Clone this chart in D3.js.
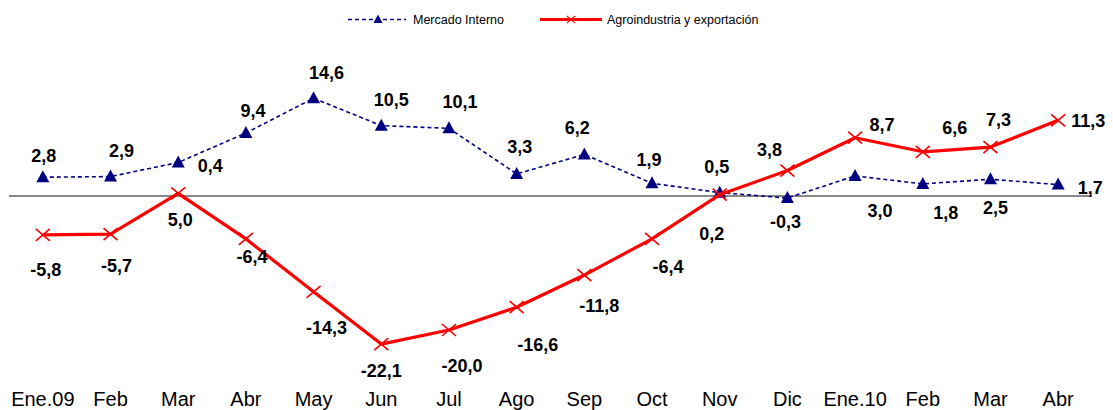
<!DOCTYPE html>
<html>
<head>
<meta charset="utf-8">
<script src="https://cdn.jsdelivr.net/npm/d3@7"></script>
<style>
  body { margin: 0; background: #fff; }
  svg { display: block; font-family: "Liberation Sans", Arial, sans-serif; }
</style>
</head>
<body>
<svg id="chart" width="1113" height="410"></svg>
<script>
const months = ["Ene.09", "Feb", "Mar", "Abr", "May", "Jun", "Jul", "Ago", "Sep", "Oct", "Nov", "Dic", "Ene.10", "Feb ", "Mar ", "Abr "];
const mercadoInterno = [2.8, 2.9, 5.0, 9.4, 14.6, 10.5, 10.1, 3.3, 6.2, 1.9, 0.5, -0.3, 3.0, 1.8, 2.5, 1.7];
const agroExport = [-5.8, -5.7, 0.4, -6.4, -14.3, -22.1, -20.0, -16.6, -11.8, -6.4, 0.2, 3.8, 8.7, 6.6, 7.3, 11.3];
// labels as printed on the original (the two March labels are swapped there)
const mercadoLabels = ["2,8", "2,9", "0,4", "9,4", "14,6", "10,5", "10,1", "3,3", "6,2", "1,9", "0,5", "-0,3", "3,0", "1,8", "2,5", "1,7"];
const agroLabels = ["-5,8", "-5,7", "5,0", "-6,4", "-14,3", "-22,1", "-20,0", "-16,6", "-11,8", "-6,4", "0,2", "3,8", "8,7", "6,6", "7,3", "11,3"];
const seriesNames = ["Mercado Interno", "Agroindustria y exportación"];

// label offsets from each point (layout only)
const mercadoOffsets = [[1, -15], [11, -20], [32, 9], [7, -16], [13, -19], [10, -20], [11, -20], [3, -21], [-7, -20], [-3, -17], [-3, -20], [-2, 30], [25, 41], [23, 35], [5, 35], [32, 9]];
const agroOffsets = [[3, 41], [6, 38], [2, 33], [6, 24], [13, 42], [0, 33], [13, 42], [21, 44], [15, 37], [16, 34], [-8, 45], [-18, -15], [27, -7], [32, -18], [8, -21], [30, 7]];

const svg = d3.select("#chart");

const x = d3.scaleBand().domain(months).range([9, 1092]).padding(0);
const y = d3.scaleLinear().domain([-25, 20]).range([363.5, 62]);
const cx = d => x(d) + x.bandwidth() / 2;

const tri = "M0,-7L6.5,5L-6.5,5Z";
const cross = "M-7,-6L7,6M-7,6L7,-6";

// zero line
svg.append("line")
    .attr("x1", 9).attr("x2", 1092)
    .attr("y1", y(0)).attr("y2", y(0))
    .attr("stroke", "#888").attr("stroke-width", 2);

// category labels
svg.append("g").selectAll("text")
    .data(months)
    .enter().append("text")
    .attr("x", d => cx(d))
    .attr("y", 406)
    .attr("text-anchor", "middle")
    .attr("font-size", 20)
    .attr("fill", "#000")
    .text(d => d.trim());

const line = d3.line().x((d, i) => cx(months[i])).y(d => y(d));

// Mercado Interno
svg.append("path")
    .datum(mercadoInterno)
    .attr("d", line)
    .attr("fill", "none")
    .attr("stroke", "#000080")
    .attr("stroke-width", 1.6)
    .attr("stroke-dasharray", "4,3");

svg.append("g").selectAll("path")
    .data(mercadoInterno)
    .enter().append("path")
    .attr("transform", (d, i) => `translate(${cx(months[i])},${y(d)})`)
    .attr("d", tri)
    .attr("fill", "#000080");

// Agroindustria
svg.append("path")
    .datum(agroExport)
    .attr("d", line)
    .attr("fill", "none")
    .attr("stroke", "#ff0000")
    .attr("stroke-width", 3.2)
    .attr("stroke-linejoin", "round");

svg.append("g").selectAll("path")
    .data(agroExport)
    .enter().append("path")
    .attr("transform", (d, i) => `translate(${cx(months[i])},${y(d)})`)
    .attr("d", cross)
    .attr("stroke", "#ff0000")
    .attr("stroke-width", 1.6)
    .attr("fill", "none");

// data labels
const addLabels = (values, labels, offsets) => {
    svg.append("g").selectAll("text")
        .data(values)
        .enter().append("text")
        .attr("x", (d, i) => cx(months[i]) + offsets[i][0])
        .attr("y", (d, i) => y(d) + offsets[i][1])
        .attr("text-anchor", "middle")
        .attr("font-size", 18)
        .attr("font-weight", "bold")
        .attr("fill", "#000")
        .text((d, i) => labels[i]);
};
addLabels(mercadoInterno, mercadoLabels, mercadoOffsets);
addLabels(agroExport, agroLabels, agroOffsets);

// legend
const legend = svg.append("g");
legend.append("line")
    .attr("x1", 348).attr("x2", 406).attr("y1", 19.5).attr("y2", 19.5)
    .attr("stroke", "#000080").attr("stroke-width", 1.6).attr("stroke-dasharray", "4,3");
legend.append("path")
    .attr("transform", "translate(378,19.5) scale(0.7)")
    .attr("d", tri).attr("fill", "#000080");
legend.append("text")
    .attr("x", 413).attr("y", 24)
    .attr("font-size", 12.5).attr("fill", "#000")
    .text(seriesNames[0]);

legend.append("line")
    .attr("x1", 540).attr("x2", 602).attr("y1", 19.5).attr("y2", 19.5)
    .attr("stroke", "#ff0000").attr("stroke-width", 3.2);
legend.append("path")
    .attr("transform", "translate(571,19.5) scale(0.6)")
    .attr("d", cross).attr("stroke", "#ff0000").attr("stroke-width", 2).attr("fill", "none");
legend.append("text")
    .attr("x", 607).attr("y", 24)
    .attr("font-size", 12.5).attr("fill", "#000")
    .text(seriesNames[1]);
</script>
</body>
</html>
